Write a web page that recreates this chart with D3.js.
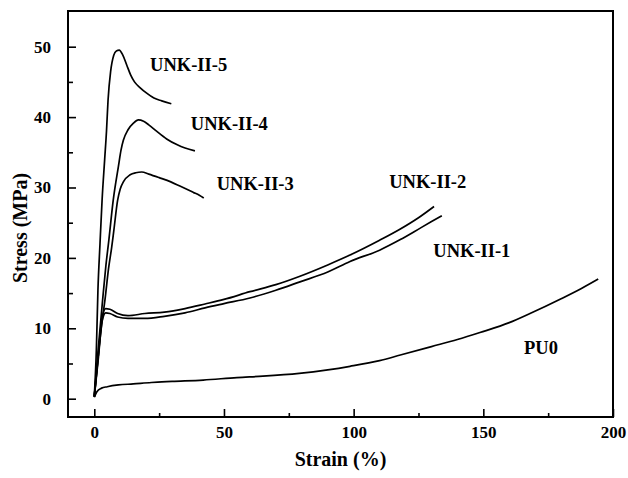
<!DOCTYPE html>
<html><head><meta charset="utf-8">
<script src="https://cdn.jsdelivr.net/npm/d3@7"></script>
<style>body{margin:0;background:#fff}svg{display:block}</style>
</head><body>
<svg id="c" width="628" height="478"></svg>
<script>
const seriesNames = ["UNK-II-5","UNK-II-4","UNK-II-3","UNK-II-2","UNK-II-1","PU0"];
const unk5 = [[0,0.3],[0.8,7],[1.4,15.4],[2.2,22],[3,28.2],[4,34],[4.7,38],[5.3,42.4],[6.3,46.5],[7.5,48.8],[8.5,49.4],[9.6,49.5],[11,48.8],[12.5,47.4],[14,46],[15.5,45],[17.6,44.2],[20.2,43.4],[23,42.7],[26,42.3],[29.7,41.9]];
const unk4 = [[0,0.3],[1.5,7],[3.2,14],[4.5,19],[5.6,22.5],[7.3,28.2],[9.3,33],[10.3,35.3],[11.2,36.7],[13,38.2],[15,39.1],[17,39.6],[19,39.4],[21,38.9],[24,38],[27.9,36.9],[31.8,36.1],[35,35.6],[38.8,35.2]];
const unk3 = [[0,0.3],[1.5,6],[3,11],[4.1,14],[5.5,18.5],[6.7,21.5],[7.5,23.8],[9,28.2],[10,29.8],[11.2,30.8],[13.8,31.8],[16,32.1],[18.3,32.2],[21,31.9],[25,31.4],[29.5,30.8],[33,30.2],[38.2,29.3],[40.5,28.9],[42.2,28.5]];
const unk2 = [[0,0.3],[1.5,6],[3,11.5],[4.4,12.8],[6,12.7],[9,12.1],[13,11.8],[19.5,12.1],[27,12.3],[35,12.8],[42.7,13.45],[50,14.1],[60,15.2],[70,16.2],[79.3,17.4],[90,19.0],[98.6,20.4],[110,22.5],[118,24.1],[125,25.7],[131,27.3]];
const unk1 = [[0,0.3],[1.5,5.5],[3,11],[4.4,12.2],[6,12.1],[9,11.6],[13,11.4],[19.5,11.4],[27,11.7],[35,12.2],[42.7,12.9],[50,13.5],[60,14.3],[70,15.4],[79.3,16.6],[90,18.0],[98.6,19.5],[110,21.1],[118,22.6],[126,24.3],[134,26.0]];
const pu0 = [[0,0.2],[1,1.0],[2.8,1.5],[5,1.7],[9.3,1.95],[15,2.1],[22,2.3],[30,2.45],[42,2.65],[55,3.0],[65,3.2],[79,3.6],[90,4.1],[98.6,4.6],[110,5.4],[118,6.2],[130,7.4],[140,8.4],[148.7,9.4],[160,10.8],[168,12.1],[180,14.2],[188,15.7],[194.3,17.0]];
const seriesData = [unk5, unk4, unk3, unk2, unk1, pu0];
const labelPos = [[21.5,46.5],[37.2,38.1],[47.2,29.7],[113.7,29.9],[130.7,20.1],[165.7,6.35]];
const xTicks = [0,50,100,150,200];
const xMinor = [25,75,125,175];
const yTicks = [0,10,20,30,40,50];
const yMinor = [5,15,25,35,45];
const xTitle = "Strain (%)";
const yTitle = "Stress (MPa)";

const L=68,R=613,T=11,B=417;
const x = d3.scaleLinear().domain([-10.14,200]).range([L,R]);
const y = d3.scaleLinear().domain([-2.6,55.07]).range([B,T]);
const svg = d3.select("#c");
const font = "'Liberation Serif', 'Times New Roman', serif";

// curves
const line = d3.line().x(d=>x(d[0])).y(d=>y(d[1])).curve(d3.curveMonotoneX);
svg.append("g").selectAll("path").data(seriesData).join("path")
  .attr("d", line).attr("fill","none").attr("stroke","#000").attr("stroke-width",1.7);

// frame
svg.append("rect").attr("x",L).attr("y",T).attr("width",R-L).attr("height",B-T)
  .attr("fill","none").attr("stroke","#000").attr("stroke-width",2);

// axes with inward ticks
const xAxis = d3.axisBottom(x).tickValues(xTicks).tickSize(-8).tickPadding(17).tickFormat(d3.format("d"));
const gx = svg.append("g").attr("transform",`translate(0,${B})`).call(xAxis);
const gxm = svg.append("g").attr("transform",`translate(0,${B})`).call(d3.axisBottom(x).tickValues(xMinor).tickSize(-4).tickFormat(""));
const yAxis = d3.axisLeft(y).tickValues(yTicks).tickSize(-8).tickPadding(17).tickFormat(d3.format("d"));
const gy = svg.append("g").attr("transform",`translate(${L},0)`).call(yAxis);
const gym = svg.append("g").attr("transform",`translate(${L},0)`).call(d3.axisLeft(y).tickValues(yMinor).tickSize(-5).tickFormat(""));
[gx,gxm,gy,gym].forEach(g=>{
  g.select(".domain").remove();
  g.selectAll("line").attr("stroke","#000").attr("stroke-width",1.6);
  g.selectAll("text").attr("font-family",font).attr("font-weight","bold").attr("font-size",17).attr("fill","#000");
});
gx.selectAll("text").attr("dy","0.71em").attr("y",9);

// axis titles
svg.append("text").attr("x",(L+R)/2).attr("y",466).attr("text-anchor","middle")
  .attr("font-family",font).attr("font-weight","bold").attr("font-size",20).text(xTitle);
svg.append("text").attr("transform",`translate(27,${(T+B)/2+14}) rotate(-90)`).attr("text-anchor","middle")
  .attr("font-family",font).attr("font-weight","bold").attr("font-size",20).text(yTitle);

// series labels
svg.append("g").selectAll("text").data(seriesNames).join("text")
  .attr("x",(d,i)=>x(labelPos[i][0])).attr("y",(d,i)=>y(labelPos[i][1]))
  .attr("font-family",font).attr("font-weight","bold").attr("font-size",18.5).attr("fill","#000")
  .text(d=>d);
</script>
</body></html>
